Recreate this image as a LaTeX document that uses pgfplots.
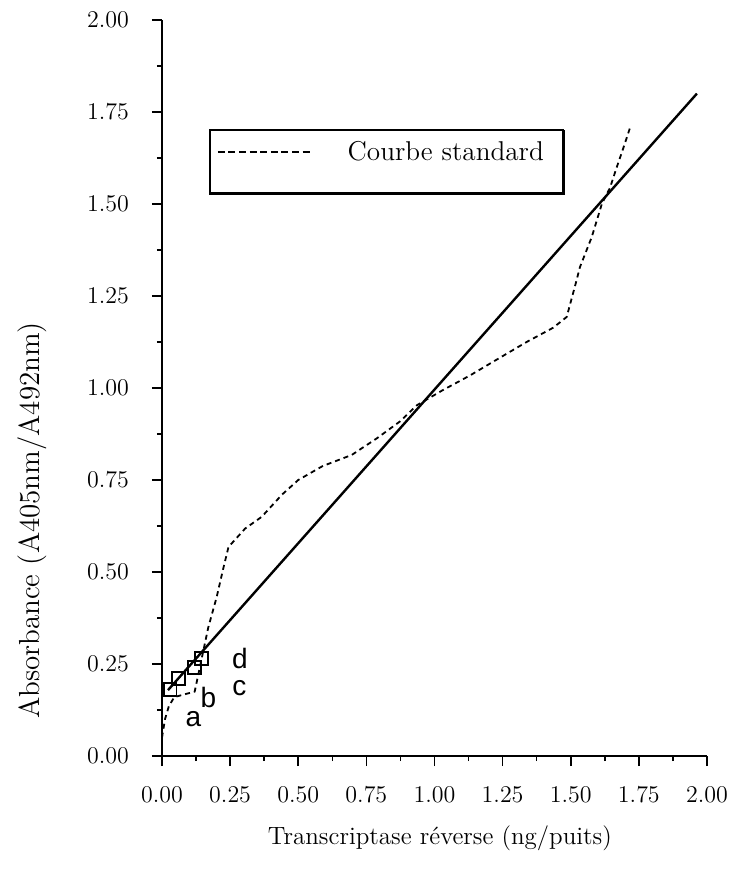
\documentclass[border=0pt]{standalone}
\usepackage{pgfplots}
\pgfplotsset{compat=1.18}
\usepackage{fontspec}
\newfontfamily\lettersf{Liberation Sans}
\begin{document}
\begin{tikzpicture}
\path[use as bounding box] (0,0) rectangle (368.5pt,445pt);
\begin{axis}[
  at={(81pt,67pt)}, anchor=south west,
  scale only axis, width=272.5pt, height=368pt,
  xmin=0, xmax=2, ymin=0, ymax=2,
  axis x line=bottom, axis y line=left,
  axis line style={-, line width=0.9pt},
  tick align=outside,
  major tick length=5pt, minor tick length=2.5pt,
  every tick/.style={line width=0.8pt, black},
  xtick={0,0.25,0.5,0.75,1,1.25,1.5,1.75,2},
  ytick={0,0.25,0.5,0.75,1,1.25,1.5,1.75,2},
  minor x tick num=1, minor y tick num=1,
  /pgf/number format/.cd, fixed, fixed zerofill, precision=2, /pgfplots/.cd,
  tick label style={font=\fontsize{12.5}{14}\selectfont},
  xticklabel style={yshift=-7pt},
  yticklabel style={xshift=-8pt},
  xlabel={Transcriptase réverse (ng/puits)},
  ylabel={Absorbance (A405nm/A492nm)},
  xlabel style={font=\fontsize{12.5}{15}\selectfont, at={(axis description cs:0.51,-0.1114)}, anchor=center},
  ylabel style={font=\fontsize{14.5}{16}\selectfont, at={(axis description cs:-0.2385,0.32)}, anchor=center},
  clip=false,
  legend style={at={(axis description cs:0.1,0.8207)}, anchor=west, draw=none, fill=none,
    inner sep=0pt, font=\fontsize{13.6}{15}\selectfont},
  legend image code/.code={\draw[line width=0.9pt, dash pattern=on 3.5pt off 1.8pt] (0pt,0pt) -- (47.5pt,0pt);},
]
\addplot[line width=0.9pt, dash pattern=on 2.5pt off 2pt] coordinates {
 (0.0,0.05) (0.011,0.10) (0.025,0.135) (0.045,0.16) (0.08,0.167) (0.12,0.175)
 (0.13,0.21) (0.17,0.35) (0.20,0.43) (0.225,0.51) (0.244,0.568) (0.305,0.618)
 (0.366,0.65) (0.44,0.71) (0.50,0.75) (0.59,0.788) (0.696,0.818) (0.788,0.863)
 (0.873,0.909) (0.935,0.953) (1.03,0.994) (1.13,1.034) (1.228,1.077) (1.338,1.125)
 (1.436,1.164) (1.485,1.193) (1.515,1.275) (1.534,1.329) (1.577,1.41) (1.614,1.50)
 (1.644,1.544) (1.668,1.598) (1.693,1.652) (1.717,1.706)
};
\addlegendentry{\hspace*{15pt}Courbe standard}
\addplot[line width=1.2pt] coordinates {(0.022,0.179) (1.963,1.80)};
\addplot[only marks, mark=square, mark size=3.2pt, mark options={line width=0.9pt, solid}] coordinates {
 (0.03,0.18) (0.06,0.21) (0.12,0.24) (0.145,0.265)};
\node[font=\lettersf\fontsize{14}{16}\selectfont] at (axis cs:0.115,0.10) {a};
\node[font=\lettersf\fontsize{14}{16}\selectfont] at (axis cs:0.17,0.16) {b};
\node[font=\lettersf\fontsize{14}{16}\selectfont] at (axis cs:0.284,0.184) {c};
\node[font=\lettersf\fontsize{14}{16}\selectfont] at (axis cs:0.286,0.265) {d};
\draw[line width=0.8pt] (axis description cs:0.088,0.8505) rectangle (axis description cs:0.7358,0.7636);
\draw[line width=1.5pt] (axis description cs:0.088,0.7636) -- (axis description cs:0.7358,0.7636) -- (axis description cs:0.7358,0.8505);
\end{axis}
\end{tikzpicture}
\end{document}
